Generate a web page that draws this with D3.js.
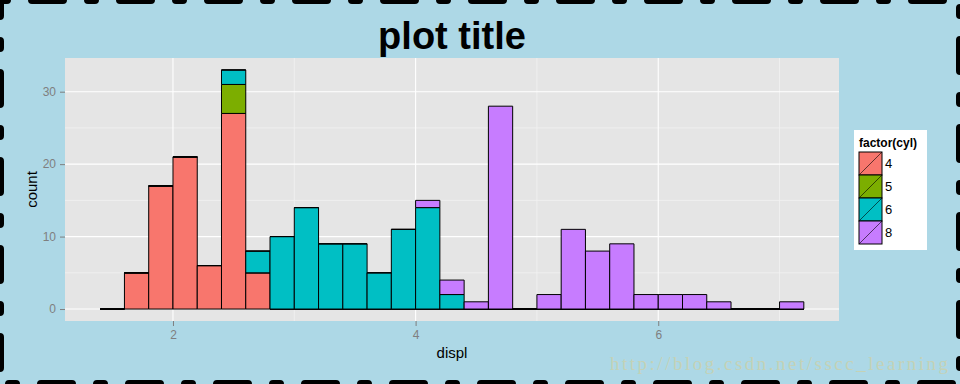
<!DOCTYPE html>
<html>
<head>
<meta charset="utf-8">
<script src="https://cdn.jsdelivr.net/npm/d3@7"></script>
<style>
  html, body { margin: 0; padding: 0; background: #ADD8E6; }
  svg { display: block; }
  text { font-family: "Liberation Sans", Arial, sans-serif; }
</style>
</head>
<body>
<svg id="chart" width="960" height="384"></svg>
<script>
// ---- data ----
const binStarts = [1.4, 1.6, 1.8, 2.0, 2.2, 2.4, 2.6, 2.8, 3.0, 3.2, 3.4, 3.6, 3.8, 4.0, 4.2,
                   4.4, 4.6, 4.8, 5.0, 5.2, 5.4, 5.6, 5.8, 6.0, 6.2, 6.4, 6.6, 6.8, 7.0];
const binWidth = 0.2;
const cylLevels = ["4", "5", "6", "8"];
const cyl4 = [0, 5, 17, 21, 6, 27, 5, 0, 0, 0, 0, 0, 0, 0, 0, 0, 0, 0, 0, 0, 0, 0, 0, 0, 0, 0, 0, 0, 0];
const cyl5 = [0, 0, 0, 0, 0, 4, 0, 0, 0, 0, 0, 0, 0, 0, 0, 0, 0, 0, 0, 0, 0, 0, 0, 0, 0, 0, 0, 0, 0];
const cyl6 = [0, 0, 0, 0, 0, 2, 3, 10, 14, 9, 9, 5, 11, 14, 2, 0, 0, 0, 0, 0, 0, 0, 0, 0, 0, 0, 0, 0, 0];
const cyl8 = [0, 0, 0, 0, 0, 0, 0, 0, 0, 0, 0, 0, 0, 1, 2, 1, 28, 0, 2, 11, 8, 9, 2, 2, 2, 1, 0, 0, 1];
const colors = ["#F8766D", "#7CAE00", "#00BFC4", "#C77CFF"];
const xTicks = [2, 4, 6];
const xMinor = [3, 5, 7];
const yTicks = [0, 10, 20, 30];
const yMinor = [5, 15, 25];
const titleText = "plot title";
const xTitle = "displ";
const yTitle = "count";
const legendTitle = "factor(cyl)";
const watermark = "http://blog.csdn.net/sscc_learning";

// ---- layout ----
const W = 960, H = 384;
const panel = { left: 65, right: 839, top: 58, bottom: 321 };

const svg = d3.select("#chart");

// background
svg.append("rect").attr("x", 0).attr("y", 0).attr("width", W).attr("height", H)
  .attr("fill", "#ADD8E6");

// rows for stacking
const rows = binStarts.map((b, i) => ({ x0: b, x1: b + binWidth, "4": cyl4[i], "5": cyl5[i], "6": cyl6[i], "8": cyl8[i] }));
const stacked = d3.stack().keys(cylLevels)(rows);
const maxCount = d3.max(rows, r => r["4"] + r["5"] + r["6"] + r["8"]);

const xMin = binStarts[0], xMax = binStarts[binStarts.length - 1] + binWidth;
const xPad = (xMax - xMin) * 0.05;
const x = d3.scaleLinear().domain([xMin - xPad, xMax + xPad]).range([panel.left, panel.right]);
const yPad = maxCount * 0.05;
const y = d3.scaleLinear().domain([-yPad, maxCount + yPad]).range([panel.bottom, panel.top]);

// panel
svg.append("rect").attr("x", panel.left).attr("y", panel.top)
  .attr("width", panel.right - panel.left).attr("height", panel.bottom - panel.top)
  .attr("fill", "#E5E5E5");

const grid = svg.append("g");
grid.selectAll(".vminor").data(xMinor).join("line")
  .attr("x1", d => x(d)).attr("x2", d => x(d)).attr("y1", panel.top).attr("y2", panel.bottom)
  .attr("stroke", "#F2F2F2").attr("stroke-width", 0.8);
grid.selectAll(".hminor").data(yMinor).join("line")
  .attr("y1", d => y(d)).attr("y2", d => y(d)).attr("x1", panel.left).attr("x2", panel.right)
  .attr("stroke", "#F2F2F2").attr("stroke-width", 0.8);
grid.selectAll(".vmajor").data(xTicks).join("line")
  .attr("x1", d => x(d)).attr("x2", d => x(d)).attr("y1", panel.top).attr("y2", panel.bottom)
  .attr("stroke", "#FFFFFF").attr("stroke-width", 1.1);
grid.selectAll(".hmajor").data(yTicks).join("line")
  .attr("y1", d => y(d)).attr("y2", d => y(d)).attr("x1", panel.left).attr("x2", panel.right)
  .attr("stroke", "#FFFFFF").attr("stroke-width", 1.1);

// bars (paths so that zero-height bins still show their outline)
const barPath = (x0, x1, y0, y1) => `M${x0},${y0}H${x1}V${y1}H${x0}Z`;
stacked.forEach((layer, li) => {
  svg.append("g").selectAll("path").data(layer).join("path")
    .attr("d", d => barPath(x(d.data.x0), x(d.data.x1), y(d[0]), y(d[1])))
    .attr("fill", colors[li])
    .attr("stroke", "#000")
    .attr("stroke-width", 1);
});

// axes
const axisColor = "#7F7F7F";
const xAxis = svg.append("g").attr("transform", `translate(0,${panel.bottom})`)
  .call(d3.axisBottom(x).tickValues(xTicks).tickFormat(d3.format("d")).tickSize(5).tickPadding(4));
const yAxis = svg.append("g").attr("transform", `translate(${panel.left},0)`)
  .call(d3.axisLeft(y).tickValues(yTicks).tickFormat(d3.format("d")).tickSize(5).tickPadding(4));
[xAxis, yAxis].forEach(a => {
  a.select(".domain").remove();
  a.selectAll(".tick line").attr("stroke", axisColor).attr("stroke-width", 1);
  a.selectAll(".tick text").attr("fill", axisColor)
    .style("font-family", "'Liberation Sans', Arial, sans-serif").style("font-size", "12px");
});

// titles
const panelCx = (panel.left + panel.right) / 2;
const panelCy = (panel.top + panel.bottom) / 2;
svg.append("text").attr("x", panelCx).attr("y", 49).attr("text-anchor", "middle")
  .attr("font-weight", "bold").attr("font-size", 38).attr("fill", "#000").text(titleText);
svg.append("text").attr("x", panelCx).attr("y", 358).attr("text-anchor", "middle")
  .attr("font-size", 15).attr("fill", "#000").text(xTitle);
svg.append("text").attr("transform", `translate(37,${panelCy}) rotate(-90)`).attr("text-anchor", "middle")
  .attr("font-size", 15).attr("fill", "#000").text(yTitle);

// legend
const lg = svg.append("g");
lg.append("rect").attr("x", 854).attr("y", 130).attr("width", 73).attr("height", 120).attr("fill", "#FFFFFF");
lg.append("text").attr("x", 859).attr("y", 147).attr("font-weight", "bold").attr("font-size", 12)
  .attr("fill", "#000").text(legendTitle);
const keyX = 859, keyY = 152, keyS = 23;
const keys = lg.selectAll(".key").data(cylLevels).join("g")
  .attr("transform", (d, i) => `translate(${keyX},${keyY + i * keyS})`);
keys.append("rect").attr("width", keyS).attr("height", keyS)
  .attr("fill", (d, i) => colors[i]).attr("stroke", "#000").attr("stroke-width", 1);
keys.append("line").attr("x1", 0).attr("y1", keyS).attr("x2", keyS).attr("y2", 0)
  .attr("stroke", "#000").attr("stroke-width", 0.6);
keys.append("text").attr("x", keyS + 3).attr("y", keyS / 2).attr("dy", "0.36em")
  .attr("font-size", 13).attr("fill", "#000").text(d => d);

// watermark
svg.append("text").attr("x", 610).attr("y", 370)
  .style("font-family", "'Liberation Serif', 'DejaVu Serif', serif")
  .attr("font-size", 19).attr("textLength", 338).attr("lengthAdjust", "spacing")
  .attr("fill", "#C4D2B6").text(watermark);

// dash-dot border
svg.append("rect").attr("x", 0).attr("y", 0).attr("width", W).attr("height", H)
  .attr("fill", "none").attr("stroke", "#000").attr("stroke-width", 8)
  .attr("stroke-dasharray", "7,25,31,25").attr("stroke-linecap", "round");
</script>
</body>
</html>
